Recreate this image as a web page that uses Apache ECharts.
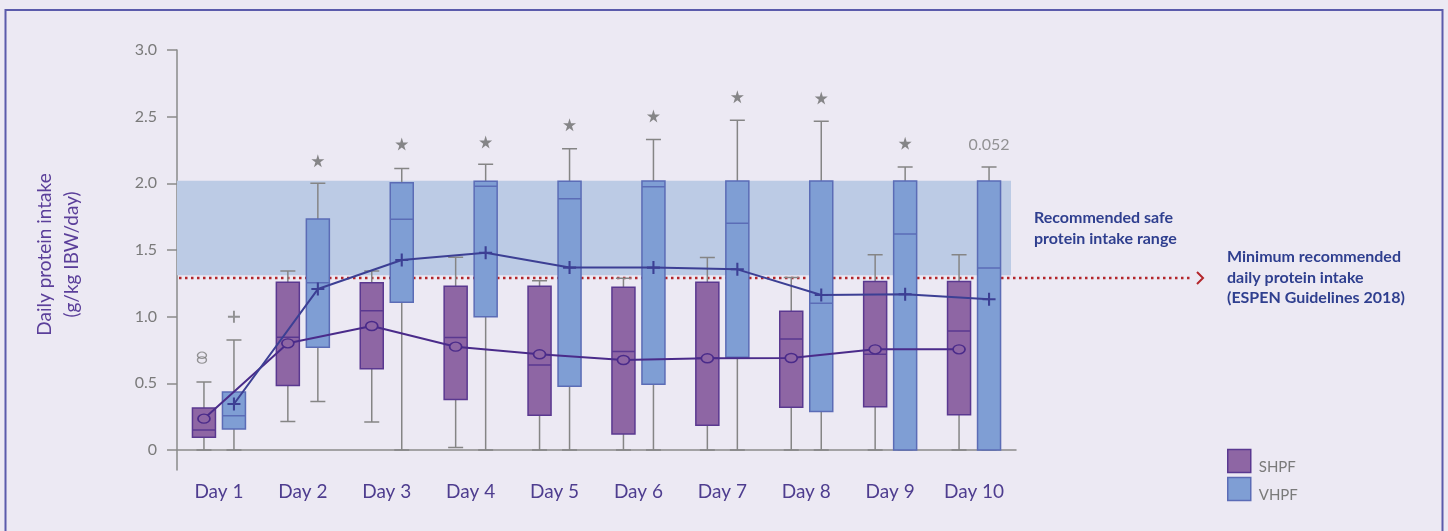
<!DOCTYPE html>
<html>
<head>
<meta charset="utf-8">
<script src="https://cdn.jsdelivr.net/npm/echarts@6/dist/echarts.min.js"></script>
<style>
  html, body { margin: 0; padding: 0; background: #ece9f3; }
  #chart { width: 1448px; height: 531px; }
</style>
</head>
<body>
<div id="chart"></div>
<script>
// ---- data (g/kg IBW/day) ----
const DAYS = ['Day 1', 'Day 2', 'Day 3', 'Day 4', 'Day 5', 'Day 6', 'Day 7', 'Day 8', 'Day 9', 'Day 10'];

// SHPF group: whisker low, Q1, median, Q3, whisker high, mean
const SHPF_LOW    = [0,     0.213, 0.21,  0.018, 0,     0,     0,     0,     0,     0];
const SHPF_Q1     = [0.095, 0.483, 0.61,  0.378, 0.26,  0.12,  0.185, 0.32,  0.325, 0.265];
const SHPF_MEDIAN = [0.15,  0.845, 1.045, 0.843, 0.638, 0.738, 0.69,  0.833, 0.718, 0.893];
const SHPF_Q3     = [0.315, 1.258, 1.255, 1.228, 1.228, 1.22,  1.258, 1.04,  1.263, 1.263];
const SHPF_HIGH   = [0.51,  1.343, 1.343, 1.445, 1.27,  1.288, 1.443, 1.293, 1.465, 1.465];
const SHPF_MEAN   = [0.235, 0.80,  0.93,  0.775, 0.718, 0.675, 0.688, 0.69,  0.755, 0.755];

// VHPF group
const VHPF_LOW    = [0,     0.363, 0,     0,     0,     0,     0,     0,     0,     0];
const VHPF_Q1     = [0.158, 0.77,  1.108, 1.0,   0.478, 0.493, 0.695, 0.288, 0,     0];
const VHPF_MEDIAN = [0.257, 1.255, 1.73,  1.978, 1.885, 1.975, 1.70,  1.10,  1.62,  1.365];
const VHPF_Q3     = [0.435, 1.733, 2.005, 2.015, 2.015, 2.017, 2.017, 2.017, 2.017, 2.017];
const VHPF_HIGH   = [0.825, 2.0,   2.112, 2.143, 2.26,  2.328, 2.473, 2.465, 2.123, 2.123];
const VHPF_MEAN   = [0.345, 1.207, 1.425, 1.48,  1.368, 1.368, 1.355, 1.163, 1.168, 1.13];

// outliers
const SHPF_OUTLIERS = [['Day 1', 0.71], ['Day 1', 0.675]];
const VHPF_OUTLIERS = [['Day 1', 1.0]];

// significance markers above the VHPF boxes
const STAR_DAYS = ['Day 2', 'Day 3', 'Day 4', 'Day 5', 'Day 6', 'Day 7', 'Day 8', 'Day 9'];
const STAR_Y    = [2.17,    2.295,   2.31,    2.44,    2.505,   2.65,    2.64,    2.30];
const P_DAY = 'Day 10';
const P_Y = 2.29;
const P_TEXT = '0.052';

// reference values
const SAFE_RANGE = [1.31, 2.02];
const MIN_INTAKE = 1.29;

// axis
const Y_MIN = -0.15;
const Y_MAX = 3.0;
const Y_TICKS = [0, 0.5, 1.0, 1.5, 2.0, 2.5, 3.0];

// ---- layout ----
const GRID = { top: 50, bottom: 61, left: 177, right: 432 };
const SHIFT = 15;            // horizontal offset of each group from the day centre
const FONT = 'Lato';
const AXIS_GREY = '#8a8a8a';
const SHPF_FILL = '#8e66a4', SHPF_EDGE = '#5a3890', SHPF_LINE = '#4a2b8a';
const VHPF_FILL = '#7f9ed4', VHPF_EDGE = '#5b6cb6', VHPF_LINE = '#3c3f94';
const WHISKER = '#858585';
const RED = '#b3262b';
const NAVY = '#2f3f8f';

const CROSS = 'path://M4.2,0H5.8V4.2H10V5.8H5.8V10H4.2V5.8H0V4.2H4.2Z';
const STAR = 'path://M50,0L61,35L98,35L68,57L79,91L50,70L21,91L32,57L2,35L39,35Z';

function makeGrid(dx) {
  return {
    top: GRID.top, bottom: GRID.bottom,
    left: GRID.left + dx, right: GRID.right - dx,
    containLabel: false, outerBoundsMode: 'none'
  };
}
function hiddenX(gridIndex) {
  return { type: 'category', data: DAYS, gridIndex: gridIndex, show: false };
}
function hiddenY(gridIndex) {
  return { type: 'value', gridIndex: gridIndex, min: Y_MIN, max: Y_MAX, show: false, splitLine: { show: false } };
}
function whiskerData(lo, med, hi) {
  return DAYS.map((_, i) => [lo[i], med[i], med[i], med[i], hi[i]]);
}
function boxData(q1, med, q3) {
  return DAYS.map((_, i) => [q1[i], q1[i], med[i], q3[i], q3[i]]);
}

const chart = echarts.init(document.getElementById('chart'));

const option = {
  animation: false,
  backgroundColor: '#ece9f3',
  grid: [makeGrid(0), makeGrid(-SHIFT), makeGrid(SHIFT)],
  xAxis: [
    {
      type: 'category', data: DAYS, gridIndex: 0, offset: -11,
      axisLine: { lineStyle: { color: AXIS_GREY, width: 1.5 } },
      axisTick: { alignWithLabel: true, length: 11, lineStyle: { color: AXIS_GREY, width: 1.5 } },
      axisLabel: { color: '#4e3d8f', fontSize: 19, fontFamily: FONT, margin: 23 }
    },
    hiddenX(1), hiddenX(1),
    hiddenX(2), hiddenX(2)
  ],
  yAxis: [
    {
      type: 'value', gridIndex: 0, min: Y_MIN, max: Y_MAX,
      name: 'Daily protein intake\n(g/kg IBW/day)',
      nameLocation: 'middle', nameGap: 92,
      nameTextStyle: { color: '#5b3f9a', fontSize: 19, fontFamily: FONT, lineHeight: 27, padding: [0, 0, 0, 11] },
      axisLine: { show: true, lineStyle: { color: AXIS_GREY, width: 1.5 } },
      axisTick: { show: true, length: 10, customValues: Y_TICKS, lineStyle: { color: AXIS_GREY, width: 1.5 } },
      axisLabel: {
        customValues: Y_TICKS, color: '#7a7a7a', fontSize: 16, fontFamily: FONT, margin: 20,
        formatter: v => (v === 0 ? '0' : v.toFixed(1))
      },
      splitLine: { show: false }
    },
    hiddenY(1), hiddenY(2)
  ],
  legend: {
    data: [
      { name: 'SHPF', itemStyle: { color: SHPF_FILL, borderColor: SHPF_EDGE, borderWidth: 1.5 } },
      { name: 'VHPF', itemStyle: { color: VHPF_FILL, borderColor: VHPF_EDGE, borderWidth: 1.5 } }
    ],
    orient: 'vertical', left: 1227, top: 447, padding: 0,
    itemWidth: 23, itemHeight: 23, itemGap: 0, icon: 'rect', selectedMode: false,
    // an empty first line drops each label a little below the centre of its swatch
    formatter: name => '\n' + name,
    textStyle: { color: '#7a7a7a', fontSize: 15, fontFamily: FONT, lineHeight: 13, padding: [0, 0, 0, 3] }
  },
  series: [
    {
      // recommended safe intake band
      type: 'scatter', xAxisIndex: 0, yAxisIndex: 0, data: [], silent: true, z: 1,
      markArea: {
        silent: true,
        itemStyle: { color: '#bccbe5' },
        data: [[{ yAxis: SAFE_RANGE[1] }, { x: 1448 - GRID.right - 5, yAxis: SAFE_RANGE[0] }]]
      }
    },
    {
      name: 'SHPF whiskers', type: 'boxplot', xAxisIndex: 1, yAxisIndex: 1, z: 2,
      boxWidth: [15, 15], silent: true, emphasis: { disabled: true },
      itemStyle: { color: 'rgba(0,0,0,0)', borderColor: WHISKER, borderWidth: 1.5 },
      data: whiskerData(SHPF_LOW, SHPF_MEDIAN, SHPF_HIGH)
    },
    {
      name: 'SHPF', type: 'boxplot', xAxisIndex: 2, yAxisIndex: 1, z: 3,
      boxWidth: [23, 23], silent: true, emphasis: { disabled: true },
      itemStyle: { color: SHPF_FILL, borderColor: SHPF_EDGE, borderWidth: 1.5 },
      data: boxData(SHPF_Q1, SHPF_MEDIAN, SHPF_Q3)
    },
    {
      name: 'VHPF whiskers', type: 'boxplot', xAxisIndex: 3, yAxisIndex: 2, z: 2,
      boxWidth: [15, 15], silent: true, emphasis: { disabled: true },
      itemStyle: { color: 'rgba(0,0,0,0)', borderColor: WHISKER, borderWidth: 1.5 },
      data: whiskerData(VHPF_LOW, VHPF_MEDIAN, VHPF_HIGH)
    },
    {
      name: 'VHPF', type: 'boxplot', xAxisIndex: 4, yAxisIndex: 2, z: 3,
      boxWidth: [23, 23], silent: true, emphasis: { disabled: true },
      itemStyle: { color: VHPF_FILL, borderColor: VHPF_EDGE, borderWidth: 1.5 },
      data: boxData(VHPF_Q1, VHPF_MEDIAN, VHPF_Q3)
    },
    {
      name: 'SHPF mean', type: 'line', xAxisIndex: 1, yAxisIndex: 1, z: 5, silent: true,
      data: SHPF_MEAN, symbol: 'circle', symbolSize: [12, 9], showAllSymbol: true,
      lineStyle: { color: SHPF_LINE, width: 2 },
      itemStyle: { color: SHPF_FILL, borderColor: SHPF_LINE, borderWidth: 1.5 }
    },
    {
      name: 'VHPF mean', type: 'line', xAxisIndex: 3, yAxisIndex: 2, z: 5, silent: true,
      data: VHPF_MEAN, symbol: CROSS, symbolSize: 13, showAllSymbol: true,
      lineStyle: { color: VHPF_LINE, width: 2 },
      itemStyle: { color: VHPF_LINE }
    },
    {
      name: 'SHPF outliers', type: 'scatter', xAxisIndex: 1, yAxisIndex: 1, z: 5, silent: true,
      data: SHPF_OUTLIERS, symbol: 'circle', symbolSize: [9, 6.5], symbolOffset: [-2, 0],
      itemStyle: { color: 'rgba(0,0,0,0)', borderColor: '#7a7a7a', borderWidth: 1.2 }
    },
    {
      name: 'VHPF outliers', type: 'scatter', xAxisIndex: 3, yAxisIndex: 2, z: 5, silent: true,
      data: VHPF_OUTLIERS, symbol: CROSS, symbolSize: 12,
      itemStyle: { color: '#7a7a7a' }
    },
    {
      name: 'significance', type: 'scatter', xAxisIndex: 3, yAxisIndex: 2, z: 5, silent: true,
      data: STAR_DAYS.map((d, i) => [d, STAR_Y[i]]), symbol: STAR, symbolSize: 13,
      itemStyle: { color: '#6b6b6b' }
    },
    {
      name: 'p value', type: 'scatter', xAxisIndex: 3, yAxisIndex: 2, z: 5, silent: true,
      data: [[P_DAY, P_Y]], symbol: 'circle', symbolSize: 2,
      itemStyle: { color: 'rgba(0,0,0,0)' },
      label: { show: true, position: 'inside', formatter: P_TEXT, color: '#7a7a7a', fontSize: 16, fontFamily: FONT }
    }
  ]
};

chart.setOption(option);

// annotations that sit outside the plotting area
const yMin = chart.convertToPixel({ yAxisIndex: 0 }, MIN_INTAKE);
const lineEnd = 1193;
chart.setOption({
  graphic: [
    {
      type: 'rect', silent: true, z: 0,
      shape: { x: 5.5, y: 10, width: 1437, height: 600 },
      style: { fill: null, stroke: '#5b5bab', lineWidth: 2 }
    },
    {
      type: 'line', silent: true, z: 1,
      shape: { x1: GRID.left + 2, y1: yMin, x2: lineEnd, y2: yMin },
      style: { stroke: RED, lineWidth: 2.5, lineDash: [2.5, 3.5] }
    },
    {
      type: 'polyline', silent: true, z: 1,
      shape: { points: [[lineEnd + 4, yMin - 6], [lineEnd + 10, yMin], [lineEnd + 4, yMin + 6]] },
      style: { stroke: RED, lineWidth: 2, fill: null }
    },
    {
      type: 'text', silent: true, z: 10,
      style: {
        x: 1034, y: 207, text: 'Recommended safe\nprotein intake range',
        fill: NAVY, fontFamily: FONT, fontWeight: 'bold', fontSize: 16, lineHeight: 21,
        align: 'left', verticalAlign: 'top'
      }
    },
    {
      type: 'text', silent: true, z: 10,
      style: {
        x: 1227, y: 247, text: 'Minimum recommended\ndaily protein intake\n(ESPEN Guidelines 2018)',
        fill: NAVY, fontFamily: FONT, fontWeight: 'bold', fontSize: 16, lineHeight: 20.5,
        align: 'left', verticalAlign: 'top'
      }
    }
  ]
});
</script>
</body>
</html>
